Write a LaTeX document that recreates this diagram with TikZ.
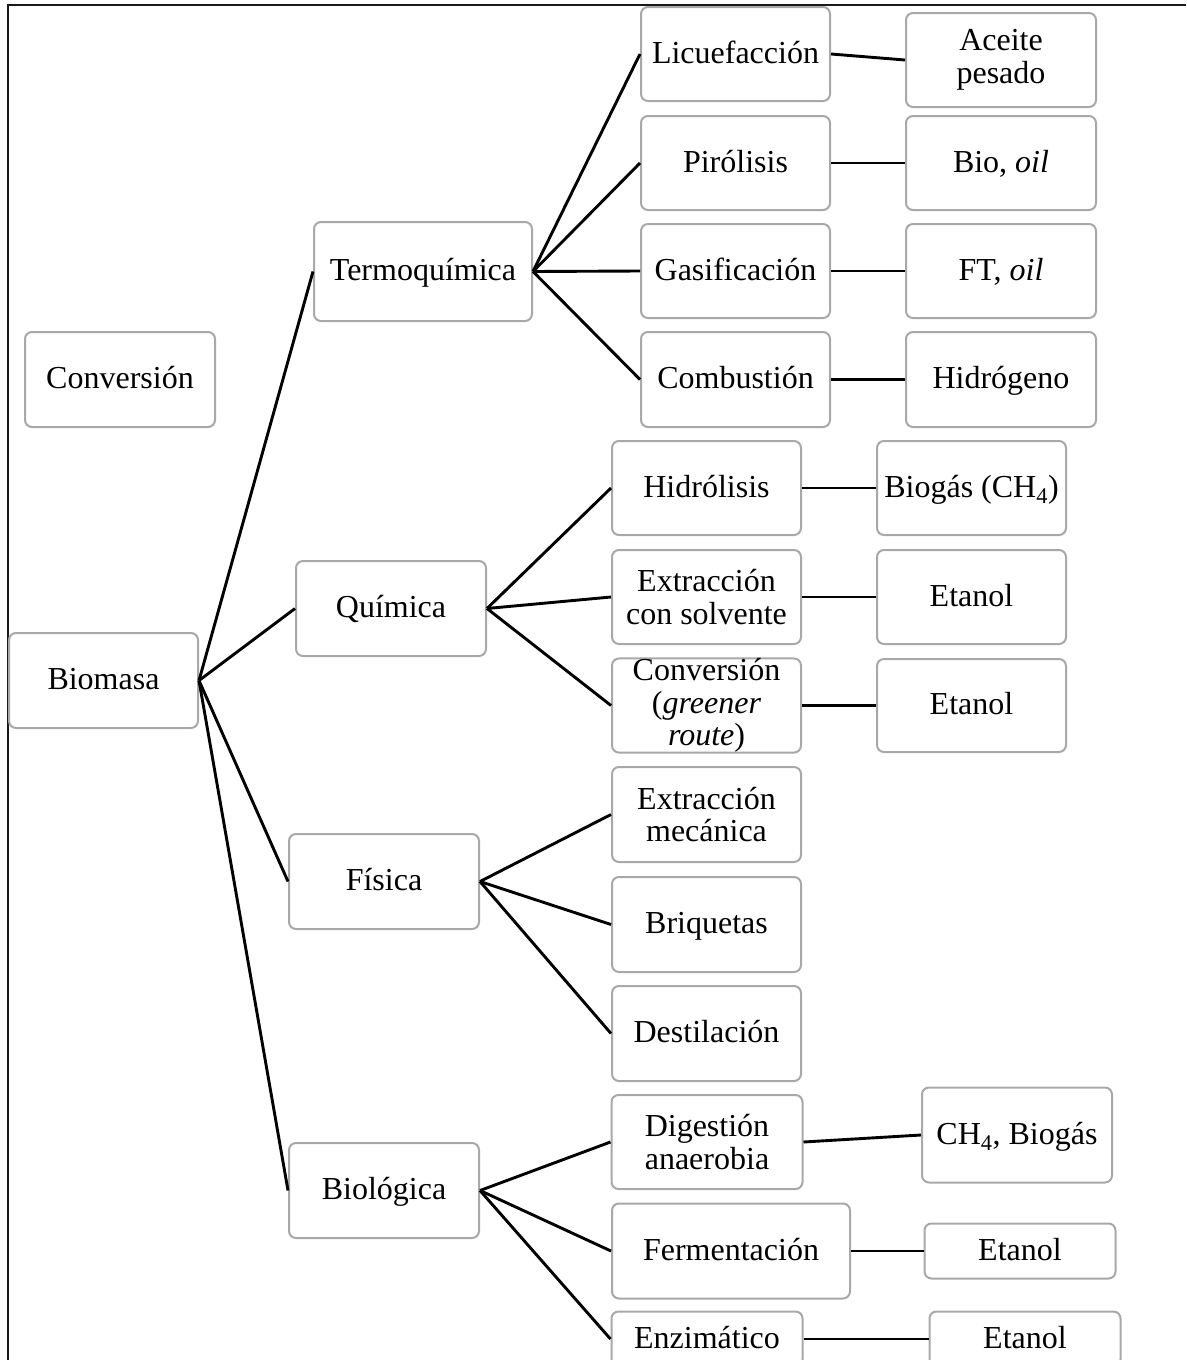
\documentclass[tikz,border=0pt]{standalone}
\usepackage{fontspec}
\setmainfont{Liberation Serif}
\definecolor{boxgray}{HTML}{A8A8A8}
\begin{document}
\begin{tikzpicture}[x=1pt,y=-1pt,
  bx/.style={draw=boxgray, line width=2pt, rounded corners=7pt, inner sep=0pt,
    align=center, font=\fontsize{32}{32.5}\selectfont, fill=white},
  one/.style={text height=22pt, text depth=4pt},
  wh/.style 2 args={minimum width=#1pt, minimum height=#2pt},
  ln/.style={line width=2.9pt, black},
  frame/.style={line width=2.6pt, black!90}]
\useasboundingbox (0,0) rectangle (1186,1360);
\coordinate (ftop) at (1186,5);
\coordinate (fcorner) at (8,5);
\coordinate (fbot) at (8,1360);
\draw[frame] (ftop) -- (fcorner) -- (fbot);

% level 0
\node[bx, one, wh={190}{95}] (conv) at (120,379.5) {Conversión};
\node[bx, one, wh={189}{95}] (bio) at (103.5,680.5) {Biomasa};
% level 1
\node[bx, one, wh={218}{99}] (termo) at (423,271.5) {Termoquímica};
\node[bx, one, wh={190}{95}] (quim) at (391,608.5) {Química};
\node[bx, one, wh={190}{95}] (fis) at (384,881.5) {Física};
\node[bx, one, wh={190}{95}] (biol) at (384,1190.5) {Biológica};
% termoquimica
\node[bx, one, wh={189}{94}] (licu) at (735.5,54) {Licuefacción};
\node[bx, wh={190}{94}] (aceite) at (1001,60) {Aceite\\pesado};
\node[bx, one, wh={189}{94}] (piro) at (735.5,163) {Pirólisis};
\node[bx, one, wh={190}{94}] (biooil) at (1001,163) {Bio, \textit{oil}};
\node[bx, one, wh={189}{94}] (gasi) at (735.5,271) {Gasificación};
\node[bx, one, wh={190}{94}] (ftoil) at (1001,271) {FT, \textit{oil}};
\node[bx, one, wh={189}{95}] (comb) at (735.5,379.5) {Combustión};
\node[bx, one, wh={190}{95}] (hidro) at (1001,379.5) {Hidrógeno};
% quimica
\node[bx, one, wh={189}{94}] (hidrol) at (706.5,488) {Hidrólisis};
\node[bx, one, wh={189}{94}] (biogas) at (971.5,488) {Biogás (CH\textsubscript{4})};
\node[bx, wh={189}{94}] (extr) at (706.5,597) {Extracción\\con solvente};
\node[bx, one, wh={189}{94}] (eta) at (971.5,597) {Etanol};
\node[bx, wh={189}{93}] (convg) at (706.5,705.5) {Conversión\\(\textit{greener}\\\textit{route})};
\node[bx, one, wh={189}{93}] (etb) at (971.5,705.5) {Etanol};
% fisica
\node[bx, wh={189}{95}] (extm) at (706.5,814.5) {Extracción\\mecánica};
\node[bx, one, wh={189}{95}] (briq) at (706.5,924.5) {Briquetas};
\node[bx, one, wh={189}{95}] (dest) at (706.5,1033.5) {Destilación};
% biologica
\node[bx, wh={191}{94}] (dig) at (707,1142) {Digestión\\anaerobia};
\node[bx, one, wh={190}{95}] (ch4) at (1017,1135) {CH\textsubscript{4}, Biogás};
\node[bx, one, wh={238}{95}] (ferm) at (731,1251) {Fermentación};
\node[bx, one, wh={191}{55}] (etc) at (1020,1251) {Etanol};
\node[bx, one, wh={191}{55}] (enz) at (707,1339) {Enzimático};
\node[bx, one, wh={191}{55}] (etd) at (1025,1339) {Etanol};

% connectors
\foreach \t in {termo,quim,fis,biol} \draw[ln] (bio.east) -- (\t.west);
\foreach \t in {licu,piro,gasi,comb} \draw[ln] (termo.east) -- (\t.west);
\foreach \t in {hidrol,extr,convg} \draw[ln] (quim.east) -- (\t.west);
\foreach \t in {extm,briq,dest} \draw[ln] (fis.east) -- (\t.west);
\foreach \t in {dig,ferm,enz} \draw[ln] (biol.east) -- (\t.west);
\draw[ln] (licu.east) -- (aceite.west);
\draw[ln] (piro.east) -- (biooil.west);
\draw[ln] (gasi.east) -- (ftoil.west);
\draw[ln] (comb.east) -- (hidro.west);
\draw[ln] (hidrol.east) -- (biogas.west);
\draw[ln] (extr.east) -- (eta.west);
\draw[ln] (convg.east) -- (etb.west);
\draw[ln] (dig.east) -- (ch4.west);
\draw[ln] (ferm.east) -- (etc.west);
\draw[ln] (enz.east) -- (etd.west);
\end{tikzpicture}
\end{document}
